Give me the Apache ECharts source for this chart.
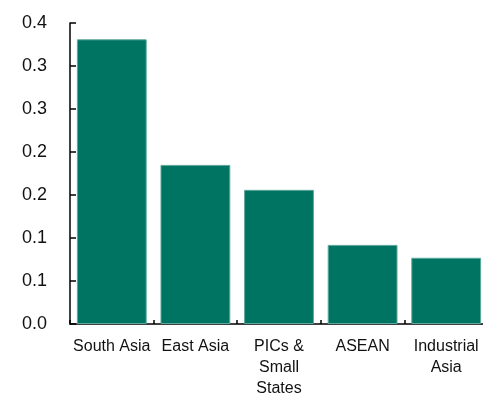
<!DOCTYPE html>
<html>
<head>
<meta charset="utf-8">
<script src="https://cdn.jsdelivr.net/npm/echarts@6/dist/echarts.min.js"></script>
<style>html,body{margin:0;padding:0;background:#fff;overflow:hidden;width:483px;height:399px;}#c{width:490px;height:399px;}</style>
</head>
<body>
<div id="c"></div>
<script>
const categories = ['South Asia', 'East Asia', 'PICs &\nSmall\nStates', 'ASEAN', 'Industrial\nAsia'];
const values = [0.331, 0.185, 0.156, 0.092, 0.077];
const yMin = 0, yMax = 0.35, yInterval = 0.05;

const chart = echarts.init(document.getElementById('c'), null, {renderer: 'canvas'});
chart.setOption({
  animation: false,
  grid: {left: 70, right: 2, top: 23, bottom: 74, containLabel: false},
  xAxis: {
    type: 'category',
    data: categories,
    axisLine: {lineStyle: {color: '#000', width: 1.5}},
    axisTick: {show: true, inside: true, length: 4, lineStyle: {color: '#000', width: 1.5}},
    axisLabel: {color: '#111', fontFamily: 'Liberation Sans, Arial, sans-serif', fontSize: 16, lineHeight: 21, margin: 12, interval: 0}
  },
  yAxis: {
    type: 'value',
    min: yMin, max: yMax, interval: yInterval,
    splitLine: {show: false},
    axisLine: {show: true, lineStyle: {color: '#000', width: 1.5}},
    axisTick: {show: true, inside: true, length: 6, lineStyle: {color: '#000', width: 1.5}},
    axisLabel: {color: '#111', fontFamily: 'Liberation Sans, Arial, sans-serif', fontSize: 18, margin: 23,
      formatter: v => (Math.round(v * 10 + 1e-9) / 10).toFixed(1)}
  },
  series: [{
    type: 'bar',
    data: values,
    barCategoryGap: '16.5%',
    itemStyle: {color: '#007462', borderColor: '#5aa89b', borderWidth: 1}
  }]
});
</script>
</body>
</html>
